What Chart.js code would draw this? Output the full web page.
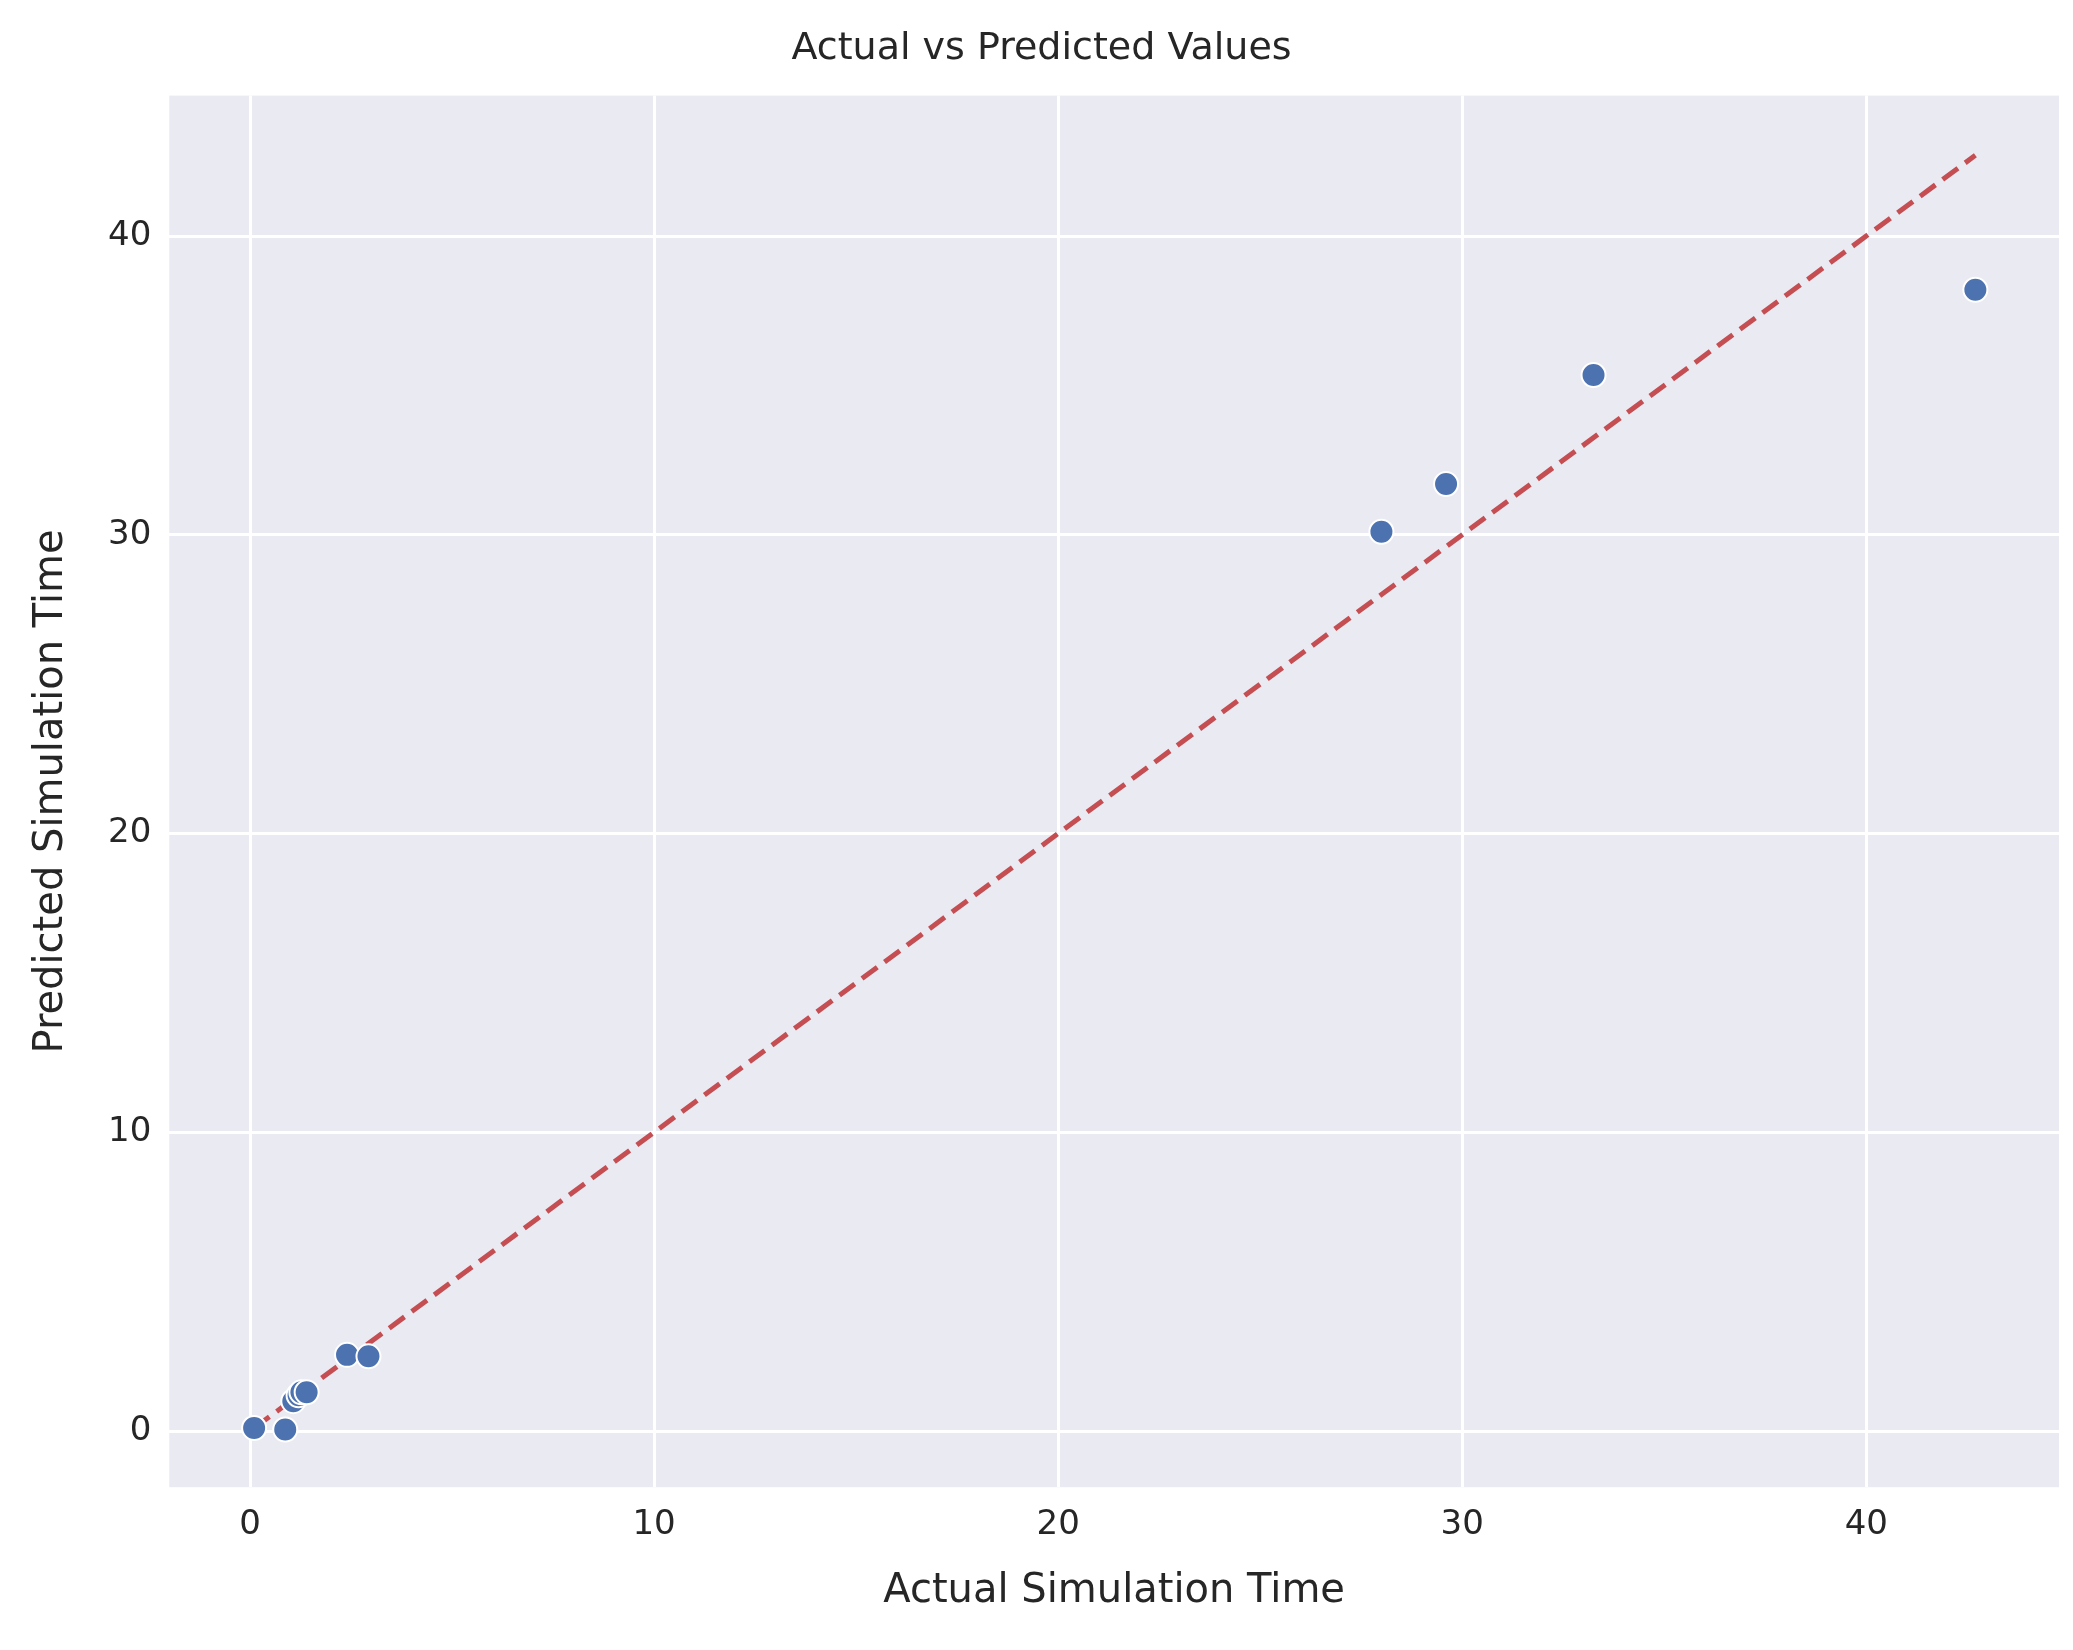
<!DOCTYPE html>
<html><head><script src="https://cdn.jsdelivr.net/npm/chart.js@4"></script>
<style>body{margin:0;background:#fff}</style></head>
<body><canvas id="c" width="2073" height="1650"></canvas>
<script>
var actual = [0.1, 0.87, 1.07, 1.2, 1.27, 1.4, 2.4, 2.93, 28.0, 29.6, 33.25, 42.7]
var predicted = [0.1, 0.05, 1.0, 1.2, 1.3, 1.3, 2.55, 2.5, 30.1, 31.7, 35.35, 38.2]
var lineX = [0.1, 42.7]

var bgPlugin = {
  id: 'bg',
  beforeDraw: function (chart) {
    var a = chart.chartArea, c = chart.ctx
    c.save(); c.fillStyle = '#eaeaf2'
    c.fillRect(a.left, a.top, a.right - a.left, a.bottom - a.top)
    c.restore()
  }
}

var ctx = document.getElementById('c').getContext('2d')
new Chart(ctx, {
  type: 'scatter',
  data: {
    datasets: [
      {
        data: actual.map(function (v, i) { return { x: v, y: predicted[i] } }),
        backgroundColor: '#4c72b0', borderColor: '#ffffff', borderWidth: 2, pointRadius: 12
      },
      {
        type: 'line',
        data: lineX.map(function (v) { return { x: v, y: v } }),
        borderColor: '#c44e52', borderWidth: 5, borderDash: [19, 9], pointRadius: 0, fill: false
      }
    ]
  },
  plugins: [bgPlugin],
  options: {
    responsive: false, devicePixelRatio: 1, animation: { duration: 0 },
    layout: { padding: { left: 24, right: 14, top: 6, bottom: 30 } },
    plugins: {
      legend: { display: false },
      title: { display: true, text: 'Actual vs Predicted Values', color: '#262626',
        font: { family: 'DejaVu Sans', size: 38, weight: 'normal' }, padding: { top: 20, bottom: 24 } }
    },
    scales: {
      x: {
        min: -2, max: 44.77,
        grid: { color: '#ffffff', lineWidth: 3, drawTicks: false }, border: { display: false },
        ticks: { stepSize: 10, color: '#262626', font: { family: 'DejaVu Sans', size: 34 }, padding: 18,
          callback: function (v) { return v % 10 === 0 ? v : null } },
        title: { display: true, text: 'Actual Simulation Time', color: '#262626', font: { family: 'DejaVu Sans', size: 40 }, padding: { top: 4 } }
      },
      y: {
        min: -1.88, max: 44.7,
        grid: { color: '#ffffff', lineWidth: 3, drawTicks: false }, border: { display: false },
        ticks: { stepSize: 10, color: '#262626', font: { family: 'DejaVu Sans', size: 34 }, padding: 18,
          callback: function (v) { return v % 10 === 0 ? v : null } },
        title: { display: true, text: 'Predicted Simulation Time', color: '#262626', font: { family: 'DejaVu Sans', size: 40 }, padding: { bottom: 14 } }
      }
    }
  }
})
</script></body></html>
